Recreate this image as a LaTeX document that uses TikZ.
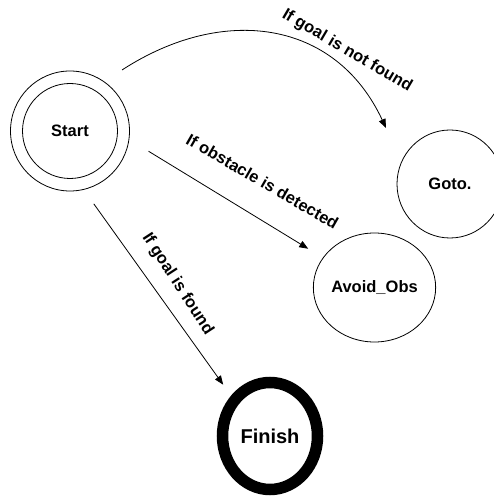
\documentclass[tikz,border=0pt]{standalone}
\usepackage{fontspec}
\setmainfont{Liberation Sans}
\usetikzlibrary{arrows.meta,shapes.geometric}
\begin{document}
\begin{tikzpicture}[x=1pt,y=1pt,
  state/.style={ellipse, draw, line width=0.8pt, inner sep=0pt, outer sep=0pt,
    font=\fontsize{16.5}{18}\selectfont\bfseries},
  conn/.style={line width=0.8pt, -{Triangle[length=9pt,width=7pt]}},
  lbl/.style={font=\fontsize{16.5}{18}\selectfont\bfseries, inner sep=0pt}]
\useasboundingbox (0,0) rectangle (494,497);
\clip (0,0) rectangle (494,497);
\node[state, minimum width=119pt, minimum height=120pt] (start) at (70,366) {};
\node[state, minimum width=95pt, minimum height=95pt] (startin) at (70,366) {Start};
\node[state, minimum width=106pt, minimum height=108pt] (goto) at (450,313) {Goto.};
\node[state, minimum width=105pt, minimum height=109pt] (avoid) at (374.5,209.5) {Avoid\_Obs};
\node[state, line width=11.5pt, minimum width=95pt, minimum height=107pt,
  font=\fontsize{20}{22}\selectfont\bfseries] (finish) at (270,61) {Finish};
\coordinate (curvefrom) at ([shift={(52,61)}]start.center);
\coordinate (curveto) at ([shift={(-64,56)}]goto.center);
\draw[conn] (curvefrom) .. controls +(100.7,65.4) and +(-50.8,108.7) .. (curveto);
\draw[conn, shorten <=23pt, shorten >=17.5pt] (start.-8.9) -- (avoid.150.4);
\draw[conn, shorten <=17.7pt, shorten >=19.4pt] (start.-77.6) -- (finish.135.4);
\node[lbl, rotate=-30.5] (lab1) at (347,446) {If goal is not found};
\node[lbl, rotate=-30] (lab2) at (262.5,315.5) {If obstacle is detected};
\node[lbl, rotate=-57] (lab3) at (177.5,213) {If goal is found};
\end{tikzpicture}
\end{document}
